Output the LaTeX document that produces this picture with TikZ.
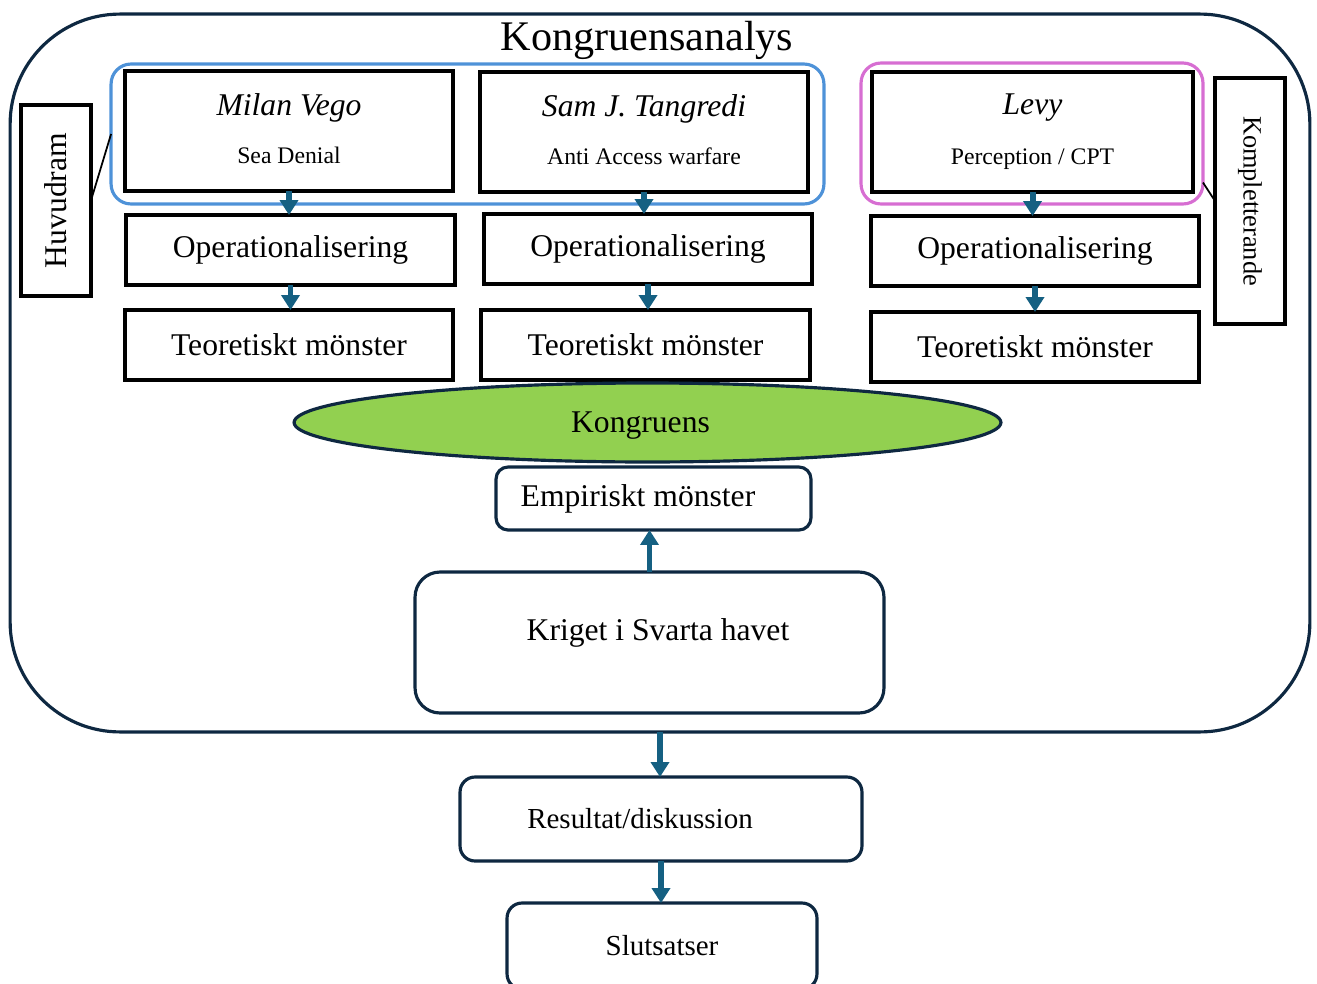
\documentclass[tikz,border=0pt]{standalone}
\usepackage{fontspec}
\setmainfont{Liberation Serif}
\usetikzlibrary{positioning,shapes.geometric,arrows.meta}
\definecolor{navy}{HTML}{0E2841}
\definecolor{framblue}{RGB}{78,146,216}
\definecolor{frampink}{RGB}{215,110,210}
\definecolor{kgreen}{HTML}{92D050}
\definecolor{pilblue}{HTML}{156082}

\begin{document}
\begin{tikzpicture}[x=0.02cm,y=-0.02cm,
box/.style={draw,line width=2pt,rectangle,inner sep=0pt,outer sep=0pt,minimum width=6.56cm,minimum height=1.4cm,font=\fontsize{18}{21.6}\selectfont},
teori/.style={box,minimum height=2.4cm,align=center},
sidebox/.style={draw,line width=2pt,inner sep=0pt,outer sep=0pt,minimum height=1.4cm,font=\fontsize{18}{21.6}\selectfont},
grpframe/.style={draw,line width=1.8pt,rounded corners=0.4cm,inner sep=0pt,outer sep=0pt},
rbox/.style={draw=navy,line width=1.8pt,rounded corners=0.3cm,inner sep=0pt,outer sep=0pt,font=\fontsize{16.5}{19.8}\selectfont},
pil/.style={draw=pilblue,line width=3.4pt,-{Triangle[width=0.36cm,length=0.3cm]}}]
\useasboundingbox (0,0) rectangle (1317,983);

\node (outer) [draw=navy,line width=1.8pt,rounded corners=2.2cm,minimum width=26cm,minimum height=14.36cm,inner sep=0pt,outer sep=0pt] at (660,373) {};
\node (title) [anchor=base,font=\fontsize{24}{28}\selectfont] at (647,51) {Kongruensanalys};

\node (hfram) [grpframe,draw=framblue,minimum width=14.26cm,minimum height=2.8cm] at (467.5,134) {};
\node (kfram) [grpframe,draw=frampink,minimum width=6.84cm,minimum height=2.82cm] at (1032,133.5) {};

\node (vego) [teori,text depth=2.6pt] at (289,131) {\textit{Milan Vego}\\[5.5pt]{\fontsize{13.5}{16}\selectfont Sea Denial}};
\node (tang) [teori,text depth=2.6pt] at (644,132) {\textit{Sam J. Tangredi}\\[5.5pt]{\fontsize{13.5}{16}\selectfont Anti Access warfare}};
\node (levy) [teori,minimum width=6.42cm] at (1032.5,132) {\textit{Levy}\\[7pt]{\fontsize{13.5}{16}\selectfont Perception / CPT}};

\node (op1) [box,minimum width=6.58cm] at (290.5,250) {Operationalisering};
\node (op2) [box] at (648,249) {Operationalisering};
\node (op3) [box] at (1035,251) {Operationalisering};
\node (tm1) [box] at (289,345) {Teoretiskt mönster};
\node (tm2) [box,minimum width=6.58cm] at (645.5,345) {Teoretiskt mönster};
\node (tm3) [box] at (1035,347) {Teoretiskt mönster};

\node (huvud) [sidebox,rotate=90,minimum width=3.82cm] at (56,200.5) {Huvudram};
\node (komp) [sidebox,rotate=-90,minimum width=4.92cm,font=\fontsize{15}{18}\selectfont] at (1250,201) {Kompletterande};

\node (kongr) [ellipse,draw=navy,line width=1.8pt,fill=kgreen,minimum width=14.14cm,minimum height=1.58cm,inner sep=0pt,font=\fontsize{18}{21.6}\selectfont,text height=15.5pt,text depth=3.9pt] at (647.5,422.5) {Kongruens\hspace*{0.28cm}};

\node (empir) [rbox,rounded corners=0.24cm,minimum width=6.3cm,minimum height=1.26cm,font=\fontsize{18}{21.6}\selectfont] at (653.5,498.5) {Empiriskt mönster\hspace*{0.62cm}};
\node (krig) [rbox,rounded corners=0.5cm,minimum width=9.38cm,minimum height=2.82cm,font=\fontsize{18}{21.6}\selectfont,text height=12.3pt,text depth=14.5pt] at (649.5,642.5) {\hspace*{0.34cm}Kriget i Svarta havet};
\node (result) [rbox,minimum width=8.04cm,minimum height=1.68cm] at (661,819) {Resultat/diskussion\hspace*{0.84cm}};
\node (slut) [rbox,minimum width=6.2cm,minimum height=1.72cm] at (662,946) {Slutsatser};

\draw[line width=1pt] (huvud.south) -- (hfram.west);
\draw[line width=1pt] (kfram.-16) -- (komp.south);

\draw[pil] (vego.south) -- (vego.south |- op1.north);
\draw[pil] (tang.south) -- (tang.south |- op2.north);
\draw[pil] (levy.south) -- (levy.south |- op3.north);
\draw[pil] (op1.south) -- (op1.south |- tm1.north);
\draw[pil] (op2.south) -- (op2.south |- tm2.north);
\draw[pil] (op3.south) -- (op3.south |- tm3.north);
\draw[pil] (krig.north) -- (krig.north |- empir.south);
\draw[pil] (outer.south) -- (outer.south |- result.north);
\draw[pil] (result.south) -- (result.south |- slut.north);
\end{tikzpicture}
\end{document}
